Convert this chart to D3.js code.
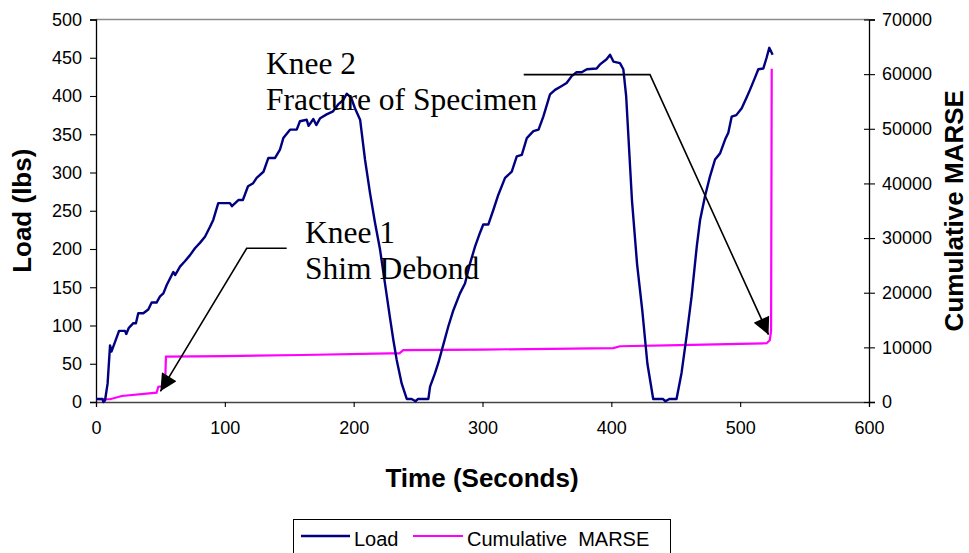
<!DOCTYPE html>
<html>
<head>
<meta charset="utf-8">
<script src="https://cdn.jsdelivr.net/npm/d3@7"></script>
<style>
  html, body { margin: 0; padding: 0; background: #fff; }
  svg { display: block; }
</style>
</head>
<body>
<svg id="chart" width="969" height="553"></svg>
<script>
// ---------------- DATA ----------------
const xTicks = [0, 100, 200, 300, 400, 500, 600];
const loadTicks = [0, 50, 100, 150, 200, 250, 300, 350, 400, 450, 500];
const marseTicks = [0, 10000, 20000, 30000, 40000, 50000, 60000, 70000];

const loadTime = [
  0, 1, 5, 5.7, 7, 9, 10.9, 12, 14, 17.9,
  22.5, 23.5, 25.5, 29, 31, 32.8, 36.7, 40.6, 43.2, 47,
  49.7, 52.3, 54.9, 60, 61.5, 65.2, 69, 73, 76.8, 80.7,
  84.6, 88.5, 91, 94.9, 104, 105.5, 110.5, 114, 118, 122,
  124.7, 130, 133.8, 139, 142.8, 145.4, 150.6, 155.8, 158.3, 163.5,
  165, 168.7, 171, 174, 179, 184, 188, 192, 194.6, 198,
  201, 205, 208.8, 212.7, 216.6, 220.4, 224.3, 228.2, 230.8, 233.4,
  237.3, 241.2, 245, 248, 250, 253, 258, 259.3, 263, 265.7,
  269.6, 273.5, 277.4, 282.5, 286.4, 290.3, 294.2, 298, 300.6, 304.5,
  308.4, 312.3, 317.5, 322.7, 326.6, 330.5, 334.4, 339.5, 343.5, 347.2,
  352.4, 356.3, 361.5, 365.3, 369.2, 373, 377, 381, 388.6, 391,
  396.3, 399, 401.6, 406.7, 409.3, 411.5, 416, 420, 424, 428,
  432.5, 440, 442, 445, 450.6, 454.5, 458.4, 462.3, 466.3, 468.9,
  472.7, 476.6, 480.5, 484.4, 488.3, 490.8, 493.4, 497, 501.2, 505,
  507.6, 511.5, 514.1, 518, 520.5, 522.6, 525.2
];
const loadValue = [
  4, 4, 4, 0, 2, 24, 74, 66, 75, 93,
  93, 89, 97, 103, 103, 116, 116, 121, 130, 130,
  138, 142, 153, 170, 166, 177, 184, 192, 201, 208,
  216, 229, 238, 260, 260, 256, 264, 264, 282, 286,
  293, 301, 319, 319, 330, 345, 356, 356, 367, 369,
  361, 370, 362, 371, 376, 380, 389, 395, 403, 398,
  384, 369, 317, 273, 234, 200, 155, 110, 81, 55,
  24, 4, 4, 1, 4, 4, 4, 20, 37, 51,
  75, 99, 120, 142, 155, 181, 203, 221, 232, 232,
  251, 271, 293, 301, 321, 323, 345, 354, 356, 373,
  402, 408, 413, 417, 426, 431, 431, 435, 436, 441,
  448, 454, 445, 443, 435, 400, 264, 180, 120, 50,
  4, 4, 1, 4, 4, 38, 86, 138, 203, 238,
  269, 295, 317, 325, 343, 352, 373, 375, 384, 398,
  408, 424, 435, 436, 450, 463, 454
];

const marseTime = [0, 10.9, 20, 47, 48.4, 53.6, 54.3, 100, 160, 228, 235.5, 238.5, 300, 401.6, 406.7, 453, 520.5, 523, 524, 524.5];
const marseValue = [500, 500, 1100, 1700, 2800, 2900, 8300, 8400, 8600, 8900, 8900, 9500, 9600, 9850, 10200, 10400, 10750, 11300, 13000, 61000];

const knee1Text = ["Knee 1", "Shim Debond"];
const knee2Text = ["Knee 2", "Fracture of Specimen"];

// ---------------- LAYOUT ----------------
const svg = d3.select("#chart");
const L = 96, R = 869, T = 19.5, B = 402;

const x = d3.scaleLinear().domain([0, 600]).range([L, R]);
const yL = d3.scaleLinear().domain([0, 500]).range([B, T]);
const yR = d3.scaleLinear().domain([0, 70000]).range([B, T]);

const sans = "'Liberation Sans', Arial, sans-serif";
const serif = "'Liberation Serif', 'Times New Roman', serif";

// plot-area top border (gray)
svg.append("line").attr("x1", L).attr("x2", R).attr("y1", T).attr("y2", T)
  .attr("stroke", "#8c8c8c").attr("stroke-width", 1.5);

// axes
const gx = svg.append("g").attr("transform", `translate(0,${B})`)
  .call(d3.axisBottom(x).tickValues(xTicks).tickSize(5).tickPadding(14).tickFormat(d3.format("d")));
const gl = svg.append("g").attr("transform", `translate(${L},0)`)
  .call(d3.axisLeft(yL).tickValues(loadTicks).tickSize(6).tickPadding(8).tickFormat(d3.format("d")));
const gr = svg.append("g").attr("transform", `translate(${R},0)`)
  .call(d3.axisRight(yR).tickValues(marseTicks).tickSize(6).tickPadding(7).tickFormat(d3.format("d")));
gr.selectAll(".tick line").attr("x1", -5);

[gx, gl, gr].forEach(g => {
  g.select(".domain").attr("stroke", "#000").attr("stroke-width", 1.3);
  g.selectAll(".tick line").attr("stroke", "#000").attr("stroke-width", 1.1);
  g.selectAll(".tick text").attr("font-family", sans).attr("font-size", 18).attr("fill", "#000");
});
gx.select(".domain").attr("stroke", "#444");

// lines
const loadData = loadTime.map((t, i) => [t, loadValue[i]]);
const marseData = marseTime.map((t, i) => [t, marseValue[i]]);

svg.append("path").datum(marseData)
  .attr("fill", "none").attr("stroke", "#ff00ff").attr("stroke-width", 2.2)
  .attr("d", d3.line().x(d => x(d[0])).y(d => yR(d[1])));

svg.append("path").datum(loadData)
  .attr("fill", "none").attr("stroke", "#000080").attr("stroke-width", 2.4)
  .attr("stroke-linejoin", "round")
  .attr("d", d3.line().x(d => x(d[0])).y(d => yL(d[1])));

// axis titles
svg.append("text").attr("transform", `translate(31,${(T + B) / 2}) rotate(-90)`)
  .attr("text-anchor", "middle").attr("font-family", sans).attr("font-weight", "bold")
  .attr("font-size", 26).text("Load (lbs)");
svg.append("text").attr("transform", `translate(963,${(T + B) / 2}) rotate(-90)`)
  .attr("text-anchor", "middle").attr("font-family", sans).attr("font-weight", "bold")
  .attr("font-size", 26).text("Cumulative MARSE");
svg.append("text").attr("x", 482).attr("y", 487)
  .attr("text-anchor", "middle").attr("font-family", sans).attr("font-weight", "bold")
  .attr("font-size", 26).text("Time (Seconds)");

// arrow marker
svg.append("defs").append("marker").attr("id", "arrow")
  .attr("viewBox", "0 0 10 10").attr("refX", 10).attr("refY", 5)
  .attr("markerWidth", 20).attr("markerHeight", 17).attr("markerUnits", "userSpaceOnUse")
  .attr("orient", "auto")
  .append("path").attr("d", "M0,0 L10,5 L0,10 Z").attr("fill", "#000");

// callouts (in data coordinates)
const knee1Line = [[148, 201], [117, 201], [50, 14]];
const knee2Line = [[332, 428], [430, 428], [522, 88]];
const callout = d3.line().x(d => x(d[0])).y(d => yL(d[1]));
svg.append("path").datum(knee1Line).attr("fill", "none").attr("stroke", "#000")
  .attr("stroke-width", 1.6).attr("marker-end", "url(#arrow)").attr("d", callout);
svg.append("path").datum(knee2Line).attr("fill", "none").attr("stroke", "#000")
  .attr("stroke-width", 1.6).attr("marker-end", "url(#arrow)").attr("d", callout);

function block(lines, px, py) {
  const t = svg.append("text").attr("font-family", serif).attr("font-size", 31.5).attr("fill", "#000");
  lines.forEach((s, i) => t.append("tspan").attr("x", px).attr("y", py + i * 35.5).text(s));
}
block(knee1Text, 305, 243);
block(knee2Text, 266, 74);

// legend
const lg = svg.append("g");
lg.append("rect").attr("x", 293.5).attr("y", 519.5).attr("width", 377).attr("height", 40)
  .attr("fill", "#fff").attr("stroke", "#000").attr("stroke-width", 1);
lg.append("line").attr("x1", 301).attr("x2", 350).attr("y1", 536).attr("y2", 536)
  .attr("stroke", "#000080").attr("stroke-width", 2.4);
lg.append("text").attr("x", 354).attr("y", 546).attr("font-family", sans).attr("font-size", 20).text("Load");
lg.append("line").attr("x1", 413).attr("x2", 463).attr("y1", 536).attr("y2", 536)
  .attr("stroke", "#ff00ff").attr("stroke-width", 2.2);
lg.append("text").attr("x", 467).attr("y", 546).attr("font-family", sans).attr("font-size", 20)
  .attr("xml:space", "preserve").style("white-space", "pre").text("Cumulative  MARSE");
</script>
</body>
</html>
